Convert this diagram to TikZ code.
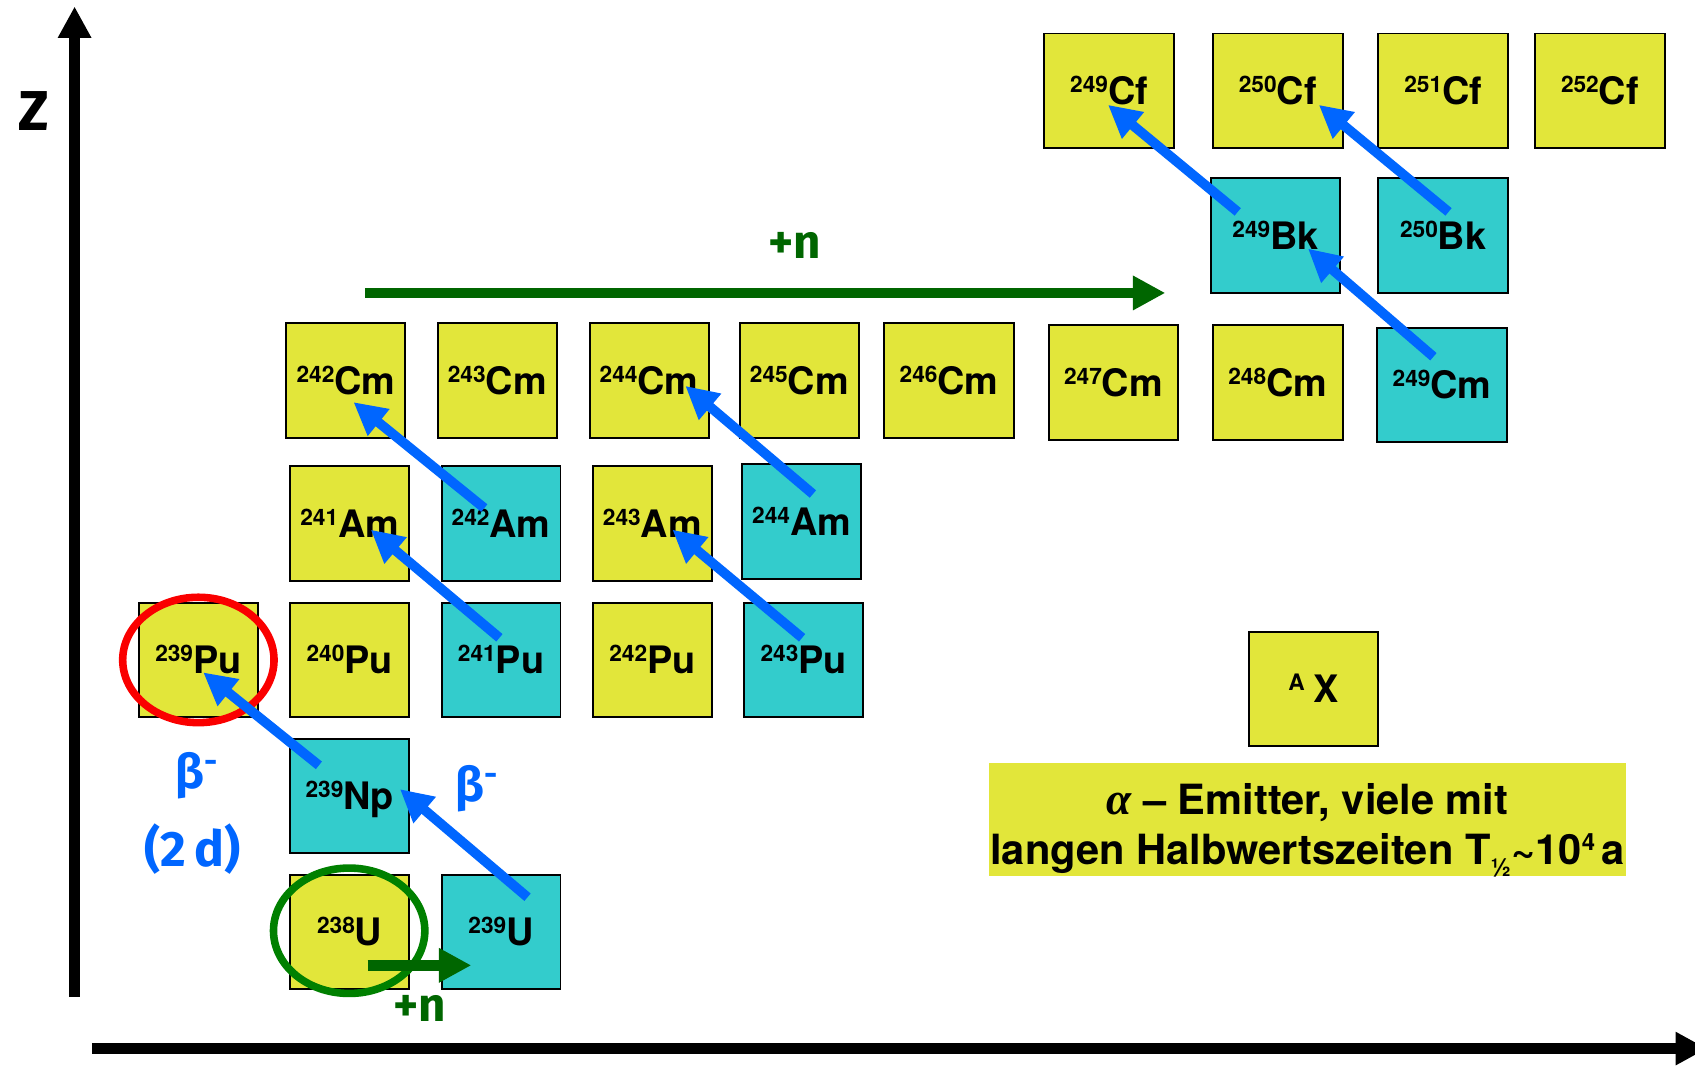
\documentclass[tikz,border=0pt]{standalone}
\usepackage{fontspec}
\setmainfont{TeX Gyre Heros}
\newfontfamily\handfont{Fira Sans}
\newfontfamily\greekserif{Liberation Serif}
\usetikzlibrary{arrows.meta}

\definecolor{nucyellow}{RGB}{226,230,58}
\definecolor{nuccyan}{RGB}{51,204,204}
\definecolor{decayblue}{RGB}{0,102,255}
\definecolor{capgreen}{RGB}{0,102,0}
\definecolor{ringgreen}{RGB}{0,128,0}
\definecolor{ringred}{RGB}{250,0,0}

% isotope label: mass number raised and smaller, then the symbol
\newcommand\iso[2]{\raisebox{11pt}{\fontsize{21}{21}\selectfont #1}#2}
% beta-minus label
\newcommand\betaminus{β\raisebox{15pt}{\fontsize{30}{30}\selectfont -}}

\tikzset{
  stable/.style={draw=black, line width=1.8pt, fill=nucyellow,
    minimum width=110pt, minimum height=106pt, inner sep=0pt,
    text height=25pt, text depth=0pt,
    font=\bfseries\fontsize{35}{35}\selectfont},
  unstable/.style={stable, fill=nuccyan},
  wide/.style={minimum width=120pt},
  decay/.style={decayblue, line width=9pt, -{Triangle[length=30pt,width=30pt]}},
  capture/.style={capgreen, line width=10pt, -{Triangle[length=30pt,width=30pt]}},
  axisline/.style={black, line width=10pt, -{Triangle[length=29pt,width=29pt]}},
  hand/.style={font=\handfont\bfseries\fontsize{44}{44}\selectfont},
  ring/.style={line width=7pt},
  notetext/.style={anchor=base, inner sep=0pt, font=\bfseries\fontsize{38.5}{38.5}\selectfont}
}

\begin{document}
\begin{tikzpicture}[x=1pt, y=-1pt]
\useasboundingbox (0,0) rectangle (1568,986);
\clip (0,0) rectangle (1568,986);

% axes
\coordinate (zbottom) at (69,922);
\coordinate (ztop) at (69,6);
\coordinate (nleft) at (85,970);
\coordinate (nright) at (1579,970);
\draw[axisline] (zbottom) -- (ztop);
\draw[axisline] (nleft) -- (nright);
\node[hand, font=\handfont\bfseries\fontsize{52}{52}\selectfont] (zlabel) at (31,103) {Z};

% californium
\node[stable, wide] (cf249) at (1026,84) {\iso{249}{Cf}};
\node[stable, wide] (cf250) at (1182,84) {\iso{250}{Cf}};
\node[stable, wide] (cf251) at (1335,84) {\iso{251}{Cf}};
\node[stable, wide] (cf252) at (1480,84) {\iso{252}{Cf}};
% berkelium
\node[unstable, wide] (bk249) at (1180,218) {\iso{249}{Bk}};
\node[unstable, wide] (bk250) at (1335,218) {\iso{250}{Bk}};
% curium
\node[stable] (cm242) at (320,352) {\iso{242}{Cm}};
\node[stable] (cm243) at (460,352) {\iso{243}{Cm}};
\node[stable] (cm244) at (600.5,352) {\iso{244}{Cm}};
\node[stable] (cm245) at (739.5,352) {\iso{245}{Cm}};
\node[stable, wide] (cm246) at (878,352) {\iso{246}{Cm}};
\node[stable, wide] (cm247) at (1030,354) {\iso{247}{Cm}};
\node[stable, wide] (cm248) at (1182,354) {\iso{248}{Cm}};
\node[unstable, wide] (cm249) at (1334,356) {\iso{249}{Cm}};
% americium
\node[stable] (am241) at (323.5,484.5) {\iso{241}{Am}};
\node[unstable] (am242) at (463.5,484.5) {\iso{242}{Am}};
\node[stable] (am243) at (603.5,484.5) {\iso{243}{Am}};
\node[unstable] (am244) at (741.5,482.5) {\iso{244}{Am}};
% plutonium
\node[stable] (pu239) at (183.5,610.5) {\iso{239}{Pu}};
\node[stable] (pu240) at (323.5,610.5) {\iso{240}{Pu}};
\node[unstable] (pu241) at (463.5,610.5) {\iso{241}{Pu}};
\node[stable] (pu242) at (603.5,610.5) {\iso{242}{Pu}};
\node[unstable] (pu243) at (743.5,610.5) {\iso{243}{Pu}};
% neptunium, uranium
\node[unstable] (np239) at (323.5,736.5) {\iso{239}{Np}};
\node[stable] (u238) at (323.5,862) {\iso{238}{U}};
\node[unstable] (u239) at (463.5,862) {\iso{239}{U}};

% legend box
\node[stable, wide] (legend) at (1215,637.5) {\iso{A}{\hspace{8pt}X}};
\node[fill=nucyellow, minimum width=589pt, minimum height=104pt, inner sep=0pt] (note) at (1209.5,758) {};
\node[notetext] (noteA) at (1209.5,753)
  {{\greekserif\itshape\bfseries\fontsize{42}{42}\selectfont α} – Emitter, viele mit};
\node[notetext] (noteB) at (1209.5,800)
  {langen Halbwertszeiten T\raisebox{-11pt}{\fontsize{23}{23}\selectfont ½}\textasciitilde 10\raisebox{13pt}{\fontsize{22}{22}\selectfont 4}\hspace{6pt}a};

% highlight rings
\draw[ring, ringred] (pu239.center) ellipse [x radius=70, y radius=58];
\draw[ring, ringgreen] ([shift={(-0.5,-1)}]u238.center) ellipse [x radius=70, y radius=58];

% beta decays
\draw[decay] ([shift={(-28.5,-28.5)}]np239.center) -- ([shift={(4.5,11.5)}]pu239.center);
\draw[decay] ([shift={(24.5,-32)}]u239.center) -- ([shift={(46.5,-6.5)}]np239.center);
\draw[decay] ([shift={(-1.5,-20.5)}]pu241.center) -- ([shift={(19.5,5.5)}]am241.center);
\draw[decay] ([shift={(-15.5,-14.5)}]am242.center) -- ([shift={(7,20)}]cm242.center);
\draw[decay] ([shift={(-1.5,-20.5)}]pu243.center) -- ([shift={(18.5,5.5)}]am243.center);
\draw[decay] ([shift={(10.5,-25.5)}]am244.center) -- ([shift={(33.5,5)}]cm244.center);
\draw[decay] ([shift={(-8,-26)}]cm249.center) -- ([shift={(30,12)}]bk249.center);
\draw[decay] ([shift={(-35,-22)}]bk249.center) -- ([shift={(-1,13)}]cf249.center);
\draw[decay] ([shift={(5,-22)}]bk250.center) -- ([shift={(38,13)}]cf250.center);

% neutron captures
\draw[capture] ([shift={(16.5,31)}]u238.center) -- ([shift={(-27.5,31)}]u239.center);
\draw[capture] ([shift={(18,-81)}]cm242.center) -- ([shift={(-102,53)}]bk249.center);

% labels
\node[hand, text=capgreen] (ntop) at (735,227) {+n};
\node[hand, text=capgreen] (nbottom) at (388,933) {+n};
\node[hand, text=decayblue] (betaleft) at (182,718) {\betaminus};
\node[hand, text=decayblue] (betaright) at (441,730) {\betaminus};
\node[hand, text=decayblue, font=\handfont\bfseries\fontsize{46}{46}\selectfont] (halflife) at (178,785) {(2\,d)};
\end{tikzpicture}
\end{document}
